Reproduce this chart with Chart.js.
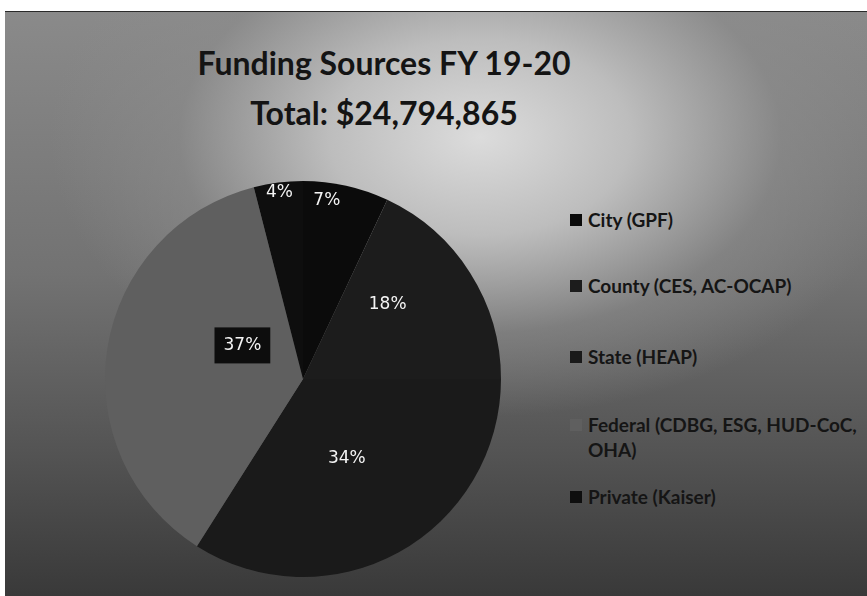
<!DOCTYPE html>
<html>
<head>
<meta charset="utf-8">
<script src="https://cdn.jsdelivr.net/npm/chart.js@4.4.0/dist/chart.umd.min.js"></script>
<style>
html, body { margin: 0; padding: 0; background: #fff; width: 867px; height: 596px; overflow: hidden; }
#frame {
    position: absolute; left: 5px; top: 11px; width: 862px; height: 585px; overflow: hidden;
    border-top: 1px solid #2a2a2a;
    background:
        radial-gradient(ellipse 430px 280px at 475px 125px, #dcdcdc 0%, #bdbdbd 35%, rgba(140,140,140,0.6) 70%, rgba(0,0,0,0) 100%),
        linear-gradient(#8a8a8a 0%, #727272 45%, #545454 75%, #393939 100%);
}
#title {
    position: absolute; left: 0; top: 26px; width: 758px; text-align: center;
    font-family: Lato, sans-serif; font-weight: bold; font-size: 32px; line-height: 50px; color: #141414;
}
#pieBox { position: absolute; left: 98px; top: 167px; width: 400px; height: 400px; }
#legend {
    position: absolute; left: 565px; top: 195px; width: 300px; margin: 0; padding: 0; list-style: none;
    font-family: Lato, sans-serif; font-weight: bold; font-size: 19px; line-height: 25px; color: #151515;
}
#legend li { position: relative; padding-left: 18px; margin-bottom: 43px; }
#legend li:nth-child(1) { margin-bottom: 41px; }
#legend li:nth-child(2) { margin-bottom: 46px; }
#legend li:nth-child(4) { margin-bottom: 22px; }
#legend li span.sw { position: absolute; left: 0; top: 7px; width: 12px; height: 12px; }
</style>
</head>
<body>
<div id="frame">
    <div id="title">Funding Sources FY 19-20<br>Total: $24,794,865</div>
    <div id="pieBox"><canvas id="fundPie"></canvas></div>
    <ul id="legend"></ul>
</div>
<script>
// dados
var categories = ['City (GPF)', 'County (CES, AC-OCAP)', 'State (HEAP)', 'Federal (CDBG, ESG, HUD-CoC, OHA)', 'Private (Kaiser)'];
var shares = [7, 18, 34, 37, 4];   // percent of $24,794,865
var sliceColors = ['#0b0b0b', '#1c1c1c', '#1a1a1a', '#5f5f5f', '#0e0e0e'];

// label placement: fraction of radius and angle shift (degrees) from slice middle
var labelRadius = [0.91, 0.57, 0.46, 0.35, 0.95];
var labelShift = [-5, -9, 0, 20, 0];

var pctLabels = {
    id: 'pctLabels',
    afterDatasetsDraw: function(chart) {
        let ctx = chart.ctx;
        let meta = chart.getDatasetMeta(0);
        let total = shares.reduce((a, b) => a + b, 0);
        ctx.save();
        ctx.font = '17px "DejaVu Sans"';
        ctx.textAlign = 'center';
        ctx.textBaseline = 'middle';
        meta.data.forEach((arc, i) => {
            let p = arc.getProps(['x', 'y', 'startAngle', 'endAngle', 'outerRadius'], true);
            let mid = (p.startAngle + p.endAngle) / 2 + labelShift[i] * Math.PI / 180;
            let r = p.outerRadius * labelRadius[i];
            let x = p.x + Math.cos(mid) * r;
            let y = p.y + Math.sin(mid) * r;
            let txt = Math.round(shares[i] / total * 100) + '%';
            let w = ctx.measureText(txt).width;
            if (i == 3) {
                ctx.fillStyle = '#0d0d0d';
                ctx.fillRect(x - w / 2 - 9, y - 18, w + 18, 36);
            }
            ctx.fillStyle = '#f4f4f4';
            ctx.fillText(txt, x, y);
        });
        ctx.restore();
    }
};

var fundChart = new Chart(document.getElementById('fundPie'), {
    type: 'pie',
    data: {
        labels: categories,
        datasets: [{
            data: shares,
            backgroundColor: sliceColors,
            borderWidth: 0
        }]
    },
    options: {
        responsive: true,
        maintainAspectRatio: false,
        animation: false,
        layout: { padding: 2 },
        plugins: {
            legend: { display: false },
            tooltip: { enabled: false },
            title: { display: false }
        }
    },
    plugins: [pctLabels]
});

// legenda
var legend = document.getElementById('legend');
categories.forEach((c, i) => {
    let li = document.createElement('li');
    let sw = document.createElement('span');
    sw.className = 'sw';
    sw.style.background = sliceColors[i];
    li.appendChild(sw);
    li.appendChild(document.createTextNode(c));
    legend.appendChild(li);
});
</script>
</body>
</html>
